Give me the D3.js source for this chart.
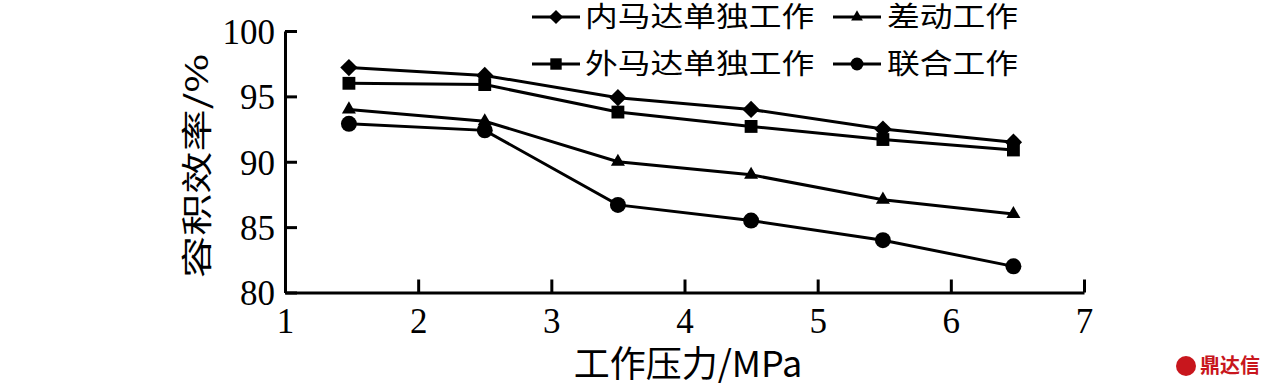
<!DOCTYPE html>
<html>
<head>
<meta charset="utf-8">
<script src="https://cdn.jsdelivr.net/npm/d3@7"></script>
<style>
  body { margin: 0; background: #fff; }
  svg { display: block; }
</style>
</head>
<body>
<svg id="chart" width="1276" height="390"></svg>
<script>
// data
var pressure = [1.48, 2.5, 3.5, 4.5, 5.49, 6.47];
var innerMotor = [97.2, 96.6, 94.9, 94.0, 92.5, 91.5];   // 内马达单独工作
var outerMotor = [96.0, 95.9, 93.8, 92.7, 91.7, 90.9];   // 外马达单独工作
var differential = [94.0, 93.1, 90.0, 89.0, 87.1, 86.0]; // 差动工作
var combined = [92.9, 92.4, 86.7, 85.5, 84.0, 82.0];     // 联合工作
var xTicks = [1, 2, 3, 4, 5, 6, 7];
var yTicks = [80, 85, 90, 95, 100];

// diamond = square turned 45 degrees
var series = [
  { name: "内马达单独工作", values: innerMotor, symbol: d3.symbolSquare, size: 150, rot: 45, lsize: 100 },
  { name: "外马达单独工作", values: outerMotor, symbol: d3.symbolSquare, size: 165, rot: 0, lsize: 130 },
  { name: "差动工作", values: differential, symbol: d3.symbolTriangle, size: 85, rot: 0, lsize: 60 },
  { name: "联合工作", values: combined, symbol: d3.symbolCircle, size: 200, rot: 0, lsize: 130 }
];

var svg = d3.select("#chart"),
    plotLeft = 285, plotRight = 1084, plotTop = 31, plotBottom = 292.5,
    numFont = "'Liberation Serif', 'Times New Roman', serif",
    cjkFont = "'Noto Sans CJK SC', sans-serif";

var x = d3.scaleLinear().domain([1, 7]).range([plotLeft, plotRight]);
var y = d3.scaleLinear().domain([80, 100]).range([plotBottom, plotTop]);

// axes, ticks pointing inward
var xAxis = svg.append("g").attr("transform", "translate(0," + plotBottom + ")")
    .call(d3.axisBottom(x).tickValues(xTicks).tickFormat(d3.format("d"))
      .tickSizeInner(-13).tickSizeOuter(0).tickPadding(26));
var yAxis = svg.append("g").attr("transform", "translate(" + plotLeft + ",0)")
    .call(d3.axisLeft(y).tickValues(yTicks).tickFormat(d3.format("d"))
      .tickSizeInner(-12).tickSizeOuter(0).tickPadding(10));

[xAxis, yAxis].forEach(function (g) {
  g.select(".domain").attr("stroke", "#000").attr("stroke-width", 3);
  g.selectAll(".tick line").attr("stroke", "#000").attr("stroke-width", 3);
  g.selectAll(".tick text").attr("fill", "#000")
    .style("font-family", numFont).style("font-size", "35px");
});
xAxis.selectAll(".tick text").attr("dy", "0.42em");
yAxis.selectAll(".tick text").attr("dy", "0.35em");

// lines and markers
var line = d3.line()
    .x(function (d, i) { return x(pressure[i]); })
    .y(function (d) { return y(d); });

series.forEach(function (s) {
  svg.append("path")
    .attr("d", line(s.values))
    .attr("fill", "none")
    .attr("stroke", "#000")
    .attr("stroke-width", 3);

  svg.selectAll(null)
    .data(s.values)
    .enter().append("path")
    .attr("d", d3.symbol().type(s.symbol).size(s.size))
    .attr("transform", function (d, i) {
      return "translate(" + x(pressure[i]) + "," + y(d) + ") rotate(" + s.rot + ")";
    })
    .attr("fill", "#000");
});

// legend, two columns
var legendPos = [[532, 17], [532, 64], [833, 17], [833, 64]];
series.forEach(function (s, i) {
  var g = svg.append("g").attr("transform", "translate(" + legendPos[i][0] + "," + legendPos[i][1] + ")");
  g.append("line").attr("x1", 0).attr("x2", 48).attr("y1", 0).attr("y2", 0)
    .attr("stroke", "#000").attr("stroke-width", 3);
  g.append("path").attr("d", d3.symbol().type(s.symbol).size(s.lsize))
    .attr("transform", "translate(24,0) rotate(" + s.rot + ")").attr("fill", "#000");
  g.append("text").attr("transform", "translate(" + (i < 2 ? 53 : 54) + ",0) scale(1.17,1)")
    .attr("dy", "0.36em")
    .style("font-family", cjkFont).style("font-size", "28px")
    .text(s.name);
});

// axis titles
svg.append("text")
  .attr("x", 688).attr("y", 364).attr("dy", "0.36em")
  .attr("text-anchor", "middle")
  .style("font-family", cjkFont).style("font-size", "36px")
  .text("工作压力/MPa");

svg.append("text")
  .attr("transform", "translate(197,166) rotate(-90) scale(1.36,1)")
  .attr("dy", "0.36em")
  .attr("text-anchor", "middle")
  .style("font-family", cjkFont).style("font-size", "31px")
  .text("容积效率/%");

// watermark
var wm = svg.append("g").attr("transform", "translate(1186,366)");
wm.append("circle").attr("r", 10).attr("fill", "#c8161d");
wm.append("text").attr("x", 14).attr("dy", "0.36em")
  .style("font-family", cjkFont).style("font-size", "20px").style("font-weight", "bold")
  .attr("fill", "#c8161d").text("鼎达信");
</script>
</body>
</html>
